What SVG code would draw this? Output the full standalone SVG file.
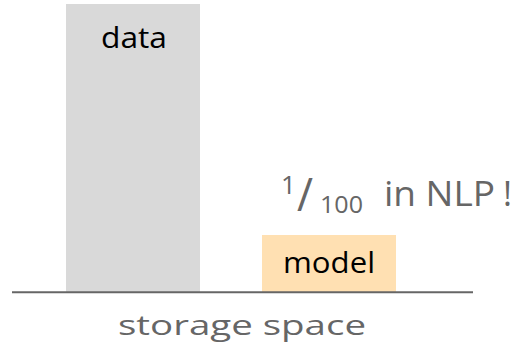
<svg xmlns="http://www.w3.org/2000/svg" width="518" height="347" viewBox="0 0 518 347">
<style>
.lbl{font-family:"Open Sans","DejaVu Sans",sans-serif;fill:#000;font-size:30px}
.gray{font-family:"Open Sans","DejaVu Sans",sans-serif;fill:#666}
</style>
<rect x="0" y="0" width="518" height="347" fill="#fff"/>
<g id="data">
<rect x="66" y="4" width="134" height="288" fill="#d9d9d9"/>
<text class="lbl" x="101" y="48" textLength="66" lengthAdjust="spacingAndGlyphs">data</text>
</g>
<g id="model">
<rect x="262" y="235" width="134" height="57" fill="#ffe0b2"/>
<text class="lbl" x="283" y="273" textLength="92" lengthAdjust="spacingAndGlyphs">model</text>
</g>
<g id="axis">
<line x1="12" y1="292.3" x2="473" y2="292.3" stroke="#666" stroke-width="2"/>
<text class="gray" x="118" y="335" font-size="28" textLength="248" lengthAdjust="spacingAndGlyphs">storage space</text>
</g>
<g id="note">
<text class="gray" x="281" y="194" font-size="26">1</text>
<text class="gray" x="297" y="211" font-size="46" textLength="16" lengthAdjust="spacingAndGlyphs">/</text>
<text class="gray" x="320" y="213" font-size="23" textLength="43" lengthAdjust="spacingAndGlyphs">100</text>
<text class="gray" x="384" y="206" font-size="34" textLength="111" lengthAdjust="spacingAndGlyphs">in NLP</text>
<text class="gray" x="503" y="206" font-size="34">!</text>
</g>
</svg>
